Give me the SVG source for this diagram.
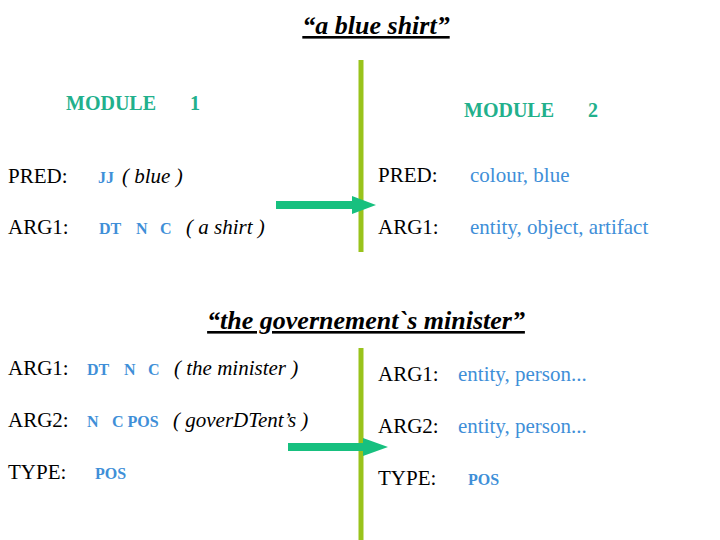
<svg xmlns="http://www.w3.org/2000/svg" width="720" height="540" viewBox="0 0 720 540" font-family="'Liberation Serif', 'DejaVu Serif', serif">
<style>
.t{font-size:21px;fill:#000}
.b{font-size:16px;font-weight:bold;fill:#3f8fd8}
.c{fill:#3f8fd8}
.i{font-style:italic;fill:#000}
.h{font-size:26px;font-weight:bold;font-style:italic;text-decoration:underline;fill:#000}
.m{font-size:20px;font-weight:bold;fill:#22b08c}
.v{stroke:#99c31c;stroke-width:5}
.a{fill:#17c07f}
</style>
<rect width="720" height="540" fill="#fff"/>
<g id="titles">
<text class="h" x="376" y="34" text-anchor="middle" font-family="'Liberation Serif', 'DejaVu Serif', serif">“a blue shirt”</text>
<text class="h" x="366" y="329" text-anchor="middle" font-family="'Liberation Serif', 'DejaVu Serif', serif">“the governement`s minister”</text>
</g>
<g id="module1" font-family="'Liberation Serif', 'DejaVu Serif', serif">
<text class="m" x="66" y="110">MODULE<tspan x="190">1</tspan></text>
<text class="t" x="8" y="183">PRED:<tspan class="b" x="98" font-size="15">JJ</tspan><tspan class="i" x="122">( blue )</tspan></text>
<text class="t" x="8" y="234">ARG1:<tspan class="b" x="99">DT</tspan><tspan class="b" x="136">N</tspan><tspan class="b" x="160">C</tspan><tspan class="i" x="186">( a shirt )</tspan></text>
</g>
<g id="module2" font-family="'Liberation Serif', 'DejaVu Serif', serif">
<text class="m" x="464" y="117">MODULE<tspan x="588">2</tspan></text>
<text class="t" x="378" y="182">PRED:<tspan class="c" x="470">colour, blue</tspan></text>
<text class="t" x="378" y="234">ARG1:<tspan class="c" x="470">entity, object, artifact</tspan></text>
</g>
<g id="left2" font-family="'Liberation Serif', 'DejaVu Serif', serif">
<text class="t" x="8" y="375">ARG1:<tspan class="b" x="87">DT</tspan><tspan class="b" x="124">N</tspan><tspan class="b" x="148">C</tspan><tspan class="i" x="174">( the minister )</tspan></text>
<text class="t" x="8" y="427">ARG2:<tspan class="b" x="87">N</tspan><tspan class="b" x="112">C POS</tspan><tspan class="i" x="173">( goverDTent’s )</tspan></text>
<text class="t" x="8" y="479">TYPE:<tspan class="b" x="95">POS</tspan></text>
</g>
<g id="right2" font-family="'Liberation Serif', 'DejaVu Serif', serif">
<text class="t" x="378" y="381">ARG1:<tspan class="c" x="458">entity, person...</tspan></text>
<text class="t" x="378" y="433">ARG2:<tspan class="c" x="458">entity, person...</tspan></text>
<text class="t" x="378" y="485">TYPE:<tspan class="b" x="468">POS</tspan></text>
</g>
<g id="connectors">
<line class="v" x1="361" y1="60" x2="361" y2="252"/>
<line class="v" x1="361" y1="348" x2="361" y2="540"/>
<polygon class="a" points="276,201 352,201 352,196 376,205 352,214 352,209 276,209"/>
<polygon class="a" points="288,443 363,443 363,438 388,447 363,456 363,451 288,451"/>
</g>
</svg>
